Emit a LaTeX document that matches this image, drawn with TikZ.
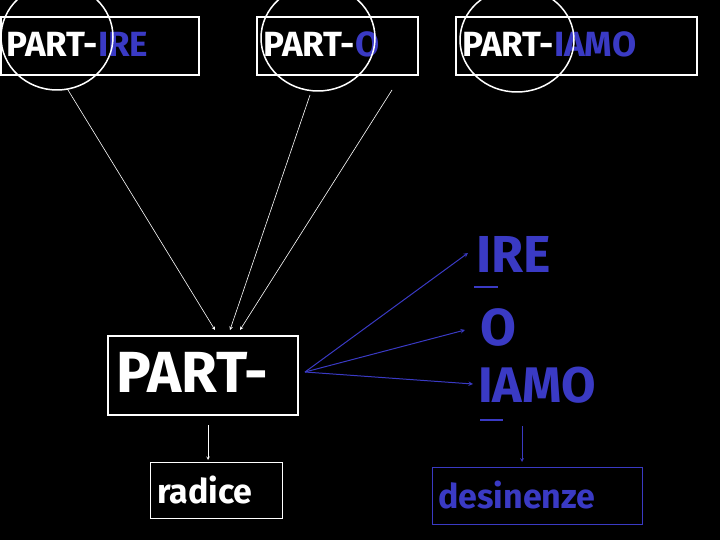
\documentclass[tikz,border=0pt]{standalone}
\usepackage{fontspec}
\setmainfont{Fira Sans}
\definecolor{bl}{HTML}{3A3AC4}
\begin{document}
\begin{tikzpicture}[x=1pt,y=-1pt,
  bx/.style={draw=white,line width=1.5pt},
  ring/.style={draw=white,line width=1.5pt},
  wa/.style={draw=white,line width=0.6pt,-stealth},
  ba/.style={draw=bl,line width=1pt,-stealth},
  tt/.style={anchor=west,inner sep=0,font=\fontsize{35}{35}\selectfont\bfseries,text=white}]
\fill[black] (0,0) rectangle (720,540);
\useasboundingbox (0,0) rectangle (720,540);
\draw[bx] (1,17) rectangle (199,75);
\draw[bx] (257,17) rectangle (418,75);
\draw[bx] (456,17) rectangle (697,75);
\node[tt] (t1) at (6,44) {PART-\textcolor{bl}{IRE}};
\node[tt] (t2) at (263,44) {PART-\textcolor{bl}{O}};
\node[tt] (t3) at (462,44) {PART-\textcolor{bl}{IAMO}};
\draw[ring] (57,37) ellipse (56 and 53);
\draw[ring] (318,38) ellipse (57 and 53);
\draw[ring] (517,40) ellipse (57 and 52);
\draw[bx] (108,336) rectangle (298,415);
\node[tt,font=\fontsize{58}{58}\selectfont\bfseries] (p) at (116,372) {PART-};
\draw[draw=white,line width=1pt] (150,462) rectangle (282,518);
\node[tt,font=\fontsize{34}{34}\selectfont\bfseries] (r) at (157,490) {radice};
\draw[draw=bl,line width=1pt] (432,467) rectangle (642,524);
\node[tt,font=\fontsize{34}{34}\selectfont\bfseries,text=bl] (d) at (438,495) {desinenze};
\node[tt,font=\fontsize{52}{52}\selectfont\bfseries,text=bl] (ire) at (476,254) {IRE};
\node[tt,font=\fontsize{52}{52}\selectfont\bfseries,text=bl] (o) at (480,327) {O};
\node[tt,font=\fontsize{50}{50}\selectfont\bfseries,text=bl] (iamo) at (478,385) {IAMO};
\draw[bl,line width=2pt] (474,287) -- (498,287);
\draw[bl,line width=2pt] (480,420) -- (503,420);
\coordinate (a1) at (68,90); \coordinate (a2) at (310,95); \coordinate (a3) at (392,90);
\coordinate (e1) at (215,330); \coordinate (e2) at (230,330); \coordinate (e3) at (240,330);
\draw[wa] (a1) -- (e1); \draw[wa] (a2) -- (e2); \draw[wa] (a3) -- (e3);
\coordinate (s) at (305,372);
\coordinate (f1) at (468,253); \coordinate (f2) at (465,330); \coordinate (f3) at (473,384);
\draw[ba] (s) -- (f1); \draw[ba] (s) -- (f2); \draw[ba] (s) -- (f3);
\coordinate (g1) at (208,425); \coordinate (h1) at (208,460);
\draw[wa] (g1) -- (h1);
\coordinate (g2) at (522,426); \coordinate (h2) at (522,462);
\draw[ba,line width=0.7pt] (g2) -- (h2);
\end{tikzpicture}
\end{document}
